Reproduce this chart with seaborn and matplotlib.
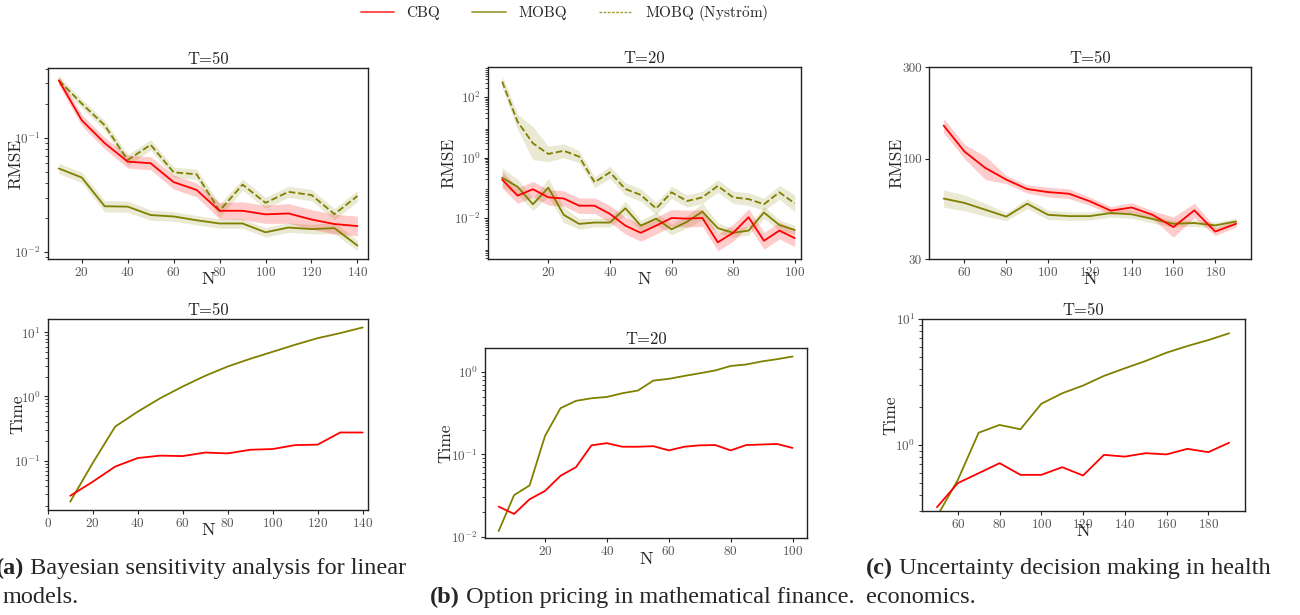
"""
RMSE and run time of CBQ vs MOBQ on three benchmark problems.
"""

import matplotlib
matplotlib.use('Agg')
import matplotlib.pyplot as plt
import numpy as np
import seaborn as sns
from matplotlib.lines import Line2D
from matplotlib.ticker import FixedLocator, NullLocator, FixedFormatter, LogLocator

# ---------------------------------------------------------------- data
# (a) Bayesian sensitivity analysis, T=50
n_a = [10, 20, 30, 40, 50, 60, 70, 80, 90, 100, 110, 120, 130, 140]
rmse_a_cbq = [0.32, 0.143, 0.090, 0.062, 0.060, 0.041, 0.035, 0.023, 0.023,
              0.0214, 0.0218, 0.0193, 0.0176, 0.0169]
rmse_a_mobq = [0.054, 0.045, 0.0252, 0.025, 0.0211, 0.0205, 0.019, 0.0178,
               0.0178, 0.0149, 0.0164, 0.0159, 0.0162, 0.0114]
rmse_a_nys = [0.32, 0.20, 0.129, 0.064, 0.087, 0.050, 0.048, 0.023, 0.039,
              0.027, 0.0337, 0.0316, 0.0215, 0.031]
band_a_cbq = [1.1, 1.12, 1.12, 1.14, 1.14, 1.15, 1.15, 1.18, 1.2, 1.2,
              1.22, 1.22, 1.22, 1.22]
band_a_mobq = [1.11, 1.11, 1.12, 1.12, 1.11, 1.1, 1.1, 1.1, 1.1, 1.1,
               1.1, 1.1, 1.12, 1.11]
band_a_nys = [1.09, 1.09, 1.1, 1.12, 1.11, 1.11, 1.11, 1.15, 1.12, 1.12,
              1.12, 1.12, 1.12, 1.12]
time_a_cbq = [0.0284, 0.047, 0.081, 0.11, 0.12, 0.118, 0.134, 0.13, 0.148,
              0.152, 0.175, 0.178, 0.275, 0.275]
time_a_mobq = [0.023, 0.092, 0.34, 0.58, 0.94, 1.43, 2.1, 2.93, 3.86, 4.97,
               6.4, 8.1, 9.7, 11.9]

# (b) Option pricing, T=20
n_b = [5, 10, 15, 20, 25, 30, 35, 40, 45, 50, 55, 60, 65, 70, 75, 80, 85,
       90, 95, 100]
rmse_b_cbq = [0.19, 0.056, 0.091, 0.049, 0.045, 0.026, 0.026, 0.0139, 0.0057,
              0.0033, 0.0057, 0.0102, 0.0097, 0.0102, 0.0016, 0.0033, 0.0108,
              0.0018, 0.0039, 0.0022]
rmse_b_mobq = [0.22, 0.11, 0.029, 0.103, 0.0129, 0.0065, 0.0072, 0.0072,
               0.0214, 0.0057, 0.0097, 0.0043, 0.0076, 0.0166, 0.0047, 0.0033,
               0.0039, 0.0155, 0.006, 0.0041]
rmse_b_nys = [330, 15.6, 3.0, 1.34, 1.7, 1.09, 0.155, 0.33, 0.093, 0.059,
              0.021, 0.072, 0.037, 0.049, 0.117, 0.049, 0.043, 0.029, 0.072,
              0.031]
band_b_cbq = [1.9, 1.8, 1.8, 1.8, 1.8, 1.8, 1.8, 1.9, 1.9, 1.9, 1.9, 1.9,
              1.9, 1.9, 1.9, 1.9, 1.9, 1.9, 1.9, 1.9]
band_b_mobq = [2.1, 1.8, 1.6, 2.0, 1.8, 1.5, 1.4, 1.4, 1.7, 1.5, 1.6, 1.5,
               1.6, 1.9, 1.5, 1.4, 1.4, 1.6, 1.5, 1.4]
band_b_nys = [1.6, 1.8, 3.5, 1.8, 1.7, 1.6, 1.5, 1.6, 1.6, 1.6, 1.6, 1.6,
              1.6, 1.6, 1.6, 1.6, 1.6, 1.6, 1.7, 1.9]
time_b_cbq = [0.0232, 0.0189, 0.0285, 0.036, 0.055, 0.070, 0.129, 0.137,
              0.124, 0.124, 0.126, 0.112, 0.124, 0.129, 0.13, 0.112, 0.13,
              0.132, 0.134, 0.12]
time_b_mobq = [0.0117, 0.032, 0.042, 0.168, 0.365, 0.448, 0.482, 0.5, 0.555,
               0.598, 0.79, 0.83, 0.90, 0.97, 1.05, 1.19, 1.24, 1.35, 1.44,
               1.55]

# (c) Health economics, T=50
n_c = [50, 60, 70, 80, 90, 100, 110, 120, 130, 140, 150, 160, 170, 180, 190]
rmse_c_cbq = [149, 109, 89.5, 77.8, 69.5, 67, 65.7, 60, 53.6, 55.7, 51, 44,
              53.8, 41.7, 45.8]
rmse_c_mobq = [62, 58.8, 54.2, 49.9, 58.3, 51, 50.2, 50.2, 52.1, 51.3, 48.5,
               45.8, 46.2, 44.9, 47.1]
band_c_cbq = [1.09, 1.09, 1.15, 1.05, 1.05, 1.06, 1.06, 1.05, 1.05, 1.06,
              1.05, 1.13, 1.09, 1.05, 1.04]
band_c_mobq = [1.11, 1.1, 1.08, 1.05, 1.06, 1.06, 1.05, 1.05, 1.05, 1.05,
               1.05, 1.04, 1.04, 1.04, 1.04]
time_c_cbq = [0.32, 0.497, 0.596, 0.716, 0.578, 0.578, 0.665, 0.571, 0.833,
              0.807, 0.859, 0.84, 0.93, 0.875, 1.04]
time_c_mobq = [0.27, 0.527, 1.25, 1.44, 1.33, 2.12, 2.57, 2.96, 3.53, 4.06,
               4.64, 5.4, 6.1, 6.8, 7.7]

labels = ['CBQ', 'MOBQ', r'$\mathrm{MOBQ\ (Nystr\ddot{o}m)}$']
captions = [
    ('(a)', ' Bayesian sensitivity analysis for linear', 'models.'),
    ('(b)', ' Option pricing in mathematical finance.', ''),
    ('(c)', ' Uncertainty decision making in health', 'economics.'),
]

RED = '#ff0000'
OLIVE = '#808000'

# ---------------------------------------------------------------- style
sns.set_style('ticks')
plt.rcParams['font.family'] = ['cmr10', 'DejaVu Serif']
plt.rcParams['mathtext.fontset'] = 'cm'
plt.rcParams['axes.formatter.use_mathtext'] = True
plt.rcParams['axes.unicode_minus'] = False


def draw_series(ax, n, values, color, band=None, dashed=False):
    """Line through seaborn plus a shaded multiplicative band."""
    sns.lineplot(x=n, y=values, ax=ax, color=color, linewidth=1.3,
                 linestyle='--' if dashed else '-')
    if band is not None:
        v = np.asarray(values)
        f = np.asarray(band)
        ax.fill_between(n, v / f, v * f, color=color,
                        alpha=0.2 if color == RED else 0.17, linewidth=0)


def style_axes(ax, title, ylabel, xlim, ylim, xticks, ylabel_x):
    ax.set_yscale('log')
    ax.set_xlim(*xlim)
    ax.set_ylim(*ylim)
    ax.set_xticks(xticks)
    ax.set_title(title, fontsize=12, pad=3)
    ax.set_xlabel('N', fontsize=13, labelpad=-5)
    ax.set_ylabel(ylabel, fontsize=12.5)
    ax.yaxis.set_label_coords(ylabel_x, 0.5)
    ax.tick_params(labelsize=9.5, labelcolor='#555555', length=3, pad=2)
    ax.tick_params(which='minor', length=2)
    for s in ax.spines.values():
        s.set_color('#222222')
        s.set_linewidth(1.0)


fig = plt.figure(figsize=(13, 6.15), dpi=100)

# axes rectangles in figure fraction
ax_a1 = fig.add_axes([0.0367, 0.5789, 0.2462, 0.3106])
ax_b1 = fig.add_axes([0.3756, 0.5789, 0.2405, 0.3117])
ax_c1 = fig.add_axes([0.7146, 0.5789, 0.2475, 0.3117])
ax_a2 = fig.add_axes([0.0367, 0.1707, 0.2466, 0.3106])
ax_b2 = fig.add_axes([0.3731, 0.1247, 0.2475, 0.3089])
ax_c2 = fig.add_axes([0.7095, 0.1696, 0.2482, 0.3117])

# (a) RMSE
draw_series(ax_a1, n_a, rmse_a_nys, OLIVE, band_a_nys, dashed=True)
draw_series(ax_a1, n_a, rmse_a_mobq, OLIVE, band_a_mobq)
draw_series(ax_a1, n_a, rmse_a_cbq, RED, band_a_cbq)
style_axes(ax_a1, 'T=50', 'RMSE', (5.2, 144.5), (0.0087, 0.41),
           range(20, 141, 20), -0.077)

# (b) RMSE
draw_series(ax_b1, n_b, rmse_b_nys, OLIVE, band_b_nys, dashed=True)
draw_series(ax_b1, n_b, rmse_b_mobq, OLIVE, band_b_mobq)
draw_series(ax_b1, n_b, rmse_b_cbq, RED, band_b_cbq)
style_axes(ax_b1, 'T=20', 'RMSE', (0.5, 102), (4.5e-4, 980),
           range(20, 101, 20), -0.101)
ax_b1.yaxis.set_major_locator(FixedLocator([1e-2, 1e0, 1e2]))

# (c) RMSE
draw_series(ax_c1, n_c, rmse_c_mobq, OLIVE, band_c_mobq)
draw_series(ax_c1, n_c, rmse_c_cbq, RED, band_c_cbq)
style_axes(ax_c1, 'T=50', 'RMSE', (43, 197), (30, 300),
           range(60, 181, 20), -0.075)
ax_c1.yaxis.set_major_locator(FixedLocator([30, 100, 300]))
ax_c1.yaxis.set_major_formatter(FixedFormatter(['30', '100', '300']))

# run times
draw_series(ax_a2, n_a, time_a_mobq, OLIVE)
draw_series(ax_a2, n_a, time_a_cbq, RED)
style_axes(ax_a2, 'T=50', 'Time', (0, 142.5), (0.01706, 16.1),
           range(0, 141, 20), -0.071)

draw_series(ax_b2, n_b, time_b_mobq, OLIVE)
draw_series(ax_b2, n_b, time_b_cbq, RED)
style_axes(ax_b2, 'T=20', 'Time', (0.6, 104.6), (0.00955, 1.95),
           range(20, 101, 20), -0.0985)

draw_series(ax_c2, n_c, time_c_mobq, OLIVE)
draw_series(ax_c2, n_c, time_c_cbq, RED)
style_axes(ax_c2, 'T=50', 'Time', (43, 197.6), (0.3, 10),
           range(60, 181, 20), -0.074)

for ax in [ax_a1, ax_b1, ax_c1, ax_a2, ax_b2, ax_c2]:
    ax.yaxis.set_minor_locator(LogLocator(base=10, subs=np.arange(2, 10)))
    ax.xaxis.set_minor_locator(NullLocator())
ax_c1.yaxis.set_minor_locator(NullLocator())

# shared legend
handles = [
    Line2D([], [], color=RED, lw=1.3, alpha=0.75),
    Line2D([], [], color=OLIVE, lw=1.3, alpha=0.75),
    Line2D([], [], color=OLIVE, lw=1.0, ls=(0, (2, 1)), alpha=0.75),
]
fig.legend(handles, labels, loc='upper center', bbox_to_anchor=(0.434, 1.017),
           ncol=3, frameon=False, fontsize=11, handlelength=2.2,
           handletextpad=0.8, columnspacing=2.1)

# sub-captions: bold tag followed by normal text
fig.canvas.draw()
renderer = fig.canvas.get_renderer()
cap_font = ['Liberation Serif', 'DejaVu Serif']
cap_size = 17.5
cap_pos = [(-0.003, 0.076, 0.002), (0.331, 0.029, None), (0.666, 0.076, 0.666)]
for (tag, line1, line2), (x0, y0, x2) in zip(captions, cap_pos):
    t = fig.text(x0, y0, tag, fontsize=cap_size, fontweight='bold',
                 family=cap_font, va='center')
    bb = t.get_window_extent(renderer)
    fig.text(bb.x1 / fig.bbox.width, y0, line1, fontsize=cap_size,
             family=cap_font, va='center')
    if line2:
        fig.text(x2, y0 - 0.047, line2, fontsize=cap_size, family=cap_font,
                 va='center')

fig.savefig('out.png', dpi=100)
